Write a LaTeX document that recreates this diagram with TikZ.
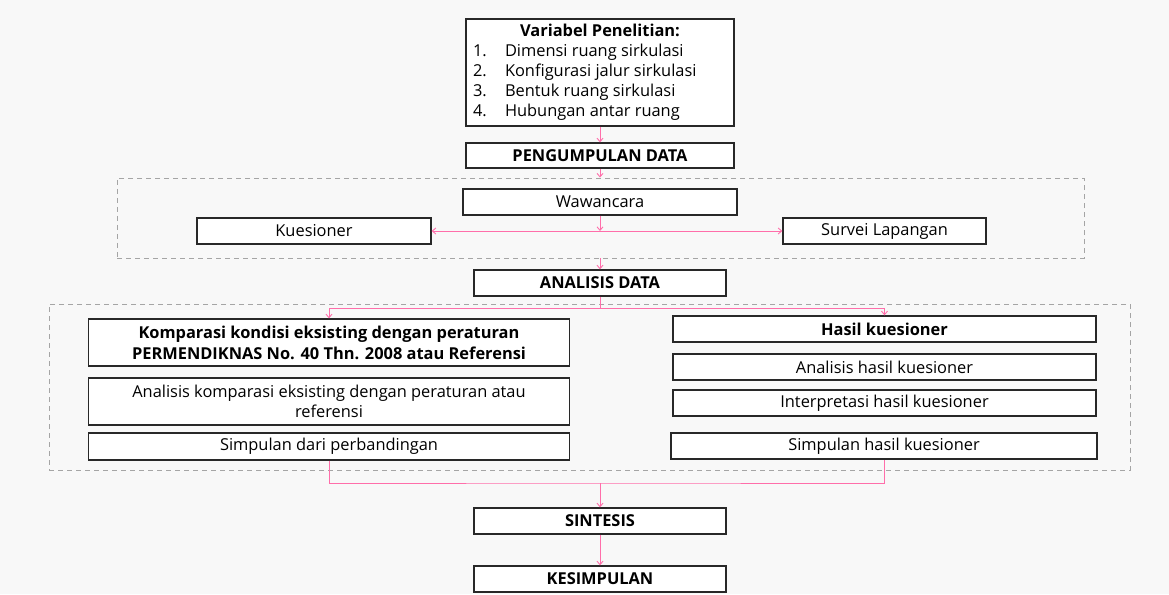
\documentclass[tikz,border=0pt]{standalone}
\usepackage{fontspec}
\setmainfont{Open Sans}
\usetikzlibrary{arrows.meta}
\definecolor{bgc}{RGB}{248,248,248}
\definecolor{pk}{RGB}{255,110,170}
\definecolor{dashc}{RGB}{165,165,165}
\definecolor{boxc}{RGB}{40,40,40}
\tikzset{
  box/.style={draw=boxc, fill=white, line width=1.3pt, inner sep=0pt, align=center,
    font=\fontsize{16.4}{20}\selectfont},
  bbox/.style={box, font=\fontsize{16.4}{21}\selectfont\bfseries},
  dbox/.style={draw=dashc, line width=0.9pt, dash pattern=on 5pt off 4pt, inner sep=0pt},
  conn/.style={draw=pk, line width=0.9pt},
  arr/.style={conn, -{Straight Barb[length=3.5pt,width=6pt]}},
}
\begin{document}
\begin{tikzpicture}[x=1pt,y=-1pt]
\useasboundingbox (0,0) rectangle (1169,594);
\fill[bgc] (0,0) rectangle (1169,594);

% dashed groups
\node[dbox, minimum width=967pt, minimum height=80pt] (d1) at (600.5,218) {};
\node[dbox, minimum width=1081pt, minimum height=166pt] (d2) at (589.5,387) {};

% boxes
\node[box, minimum width=268pt, minimum height=107pt] (var) at (600,72.5)
  {{\bfseries Variabel Penelitian:}\\
   \makebox[254pt][l]{\makebox[32pt][l]{1.}Dimensi ruang sirkulasi}\\
   \makebox[254pt][l]{\makebox[32pt][l]{2.}Konfigurasi jalur sirkulasi}\\
   \makebox[254pt][l]{\makebox[32pt][l]{3.}Bentuk ruang sirkulasi}\\
   \makebox[254pt][l]{\makebox[32pt][l]{4.}Hubungan antar ruang}};
\node[bbox, minimum width=268pt, minimum height=25pt] (pd) at (600,155.5) {PENGUMPULAN DATA};
\node[box, minimum width=274pt, minimum height=26pt] (waw) at (600,202) {Wawancara};
\node[box, minimum width=234pt, minimum height=26pt] (kue) at (314,231) {Kuesioner};
\node[box, minimum width=203pt, minimum height=26pt] (sur) at (884.5,231) {Survei Lapangan};
\node[bbox, minimum width=252pt, minimum height=26pt] (ana) at (600,283) {ANALISIS DATA};
\node[bbox, minimum width=481pt, minimum height=47pt] (kom) at (329,342.5)
  {Komparasi kondisi eksisting dengan peraturan\\PERMENDIKNAS No. 40 Thn. 2008 atau Referensi};
\node[box, minimum width=481pt, minimum height=47pt] (akom) at (329,401.5)
  {Analisis komparasi eksisting dengan peraturan atau\\referensi};
\node[box, minimum width=481pt, minimum height=27pt] (sdp) at (329,446.5) {Simpulan dari perbandingan};
\node[bbox, minimum width=423pt, minimum height=26pt] (hk) at (884.5,329) {Hasil kuesioner};
\node[box, minimum width=423pt, minimum height=26pt] (ahk) at (884.5,367) {Analisis hasil kuesioner};
\node[box, minimum width=423pt, minimum height=26pt] (ihk) at (884.5,403) {Interpretasi hasil kuesioner};
\node[box, minimum width=426pt, minimum height=26pt] (shk) at (884,446) {Simpulan hasil kuesioner};
\node[bbox, minimum width=252pt, minimum height=26pt] (sin) at (600,521) {SINTESIS};
\node[bbox, minimum width=252pt, minimum height=26pt] (kes) at (600,579) {KESIMPULAN};

% connectors
\draw[arr] (var.south) -- (pd.north);
\draw[arr] (pd.south) -- (pd.south |- d1.north);
\coordinate (j1) at (waw.south |- kue.east);
\draw[arr] (waw.south) -- (j1);
\draw[arr] (j1) -- (kue.east);
\draw[arr] (j1) -- (sur.west);
\draw[arr] (ana.north |- d1.south) -- (ana.north);
\coordinate (j2) at (600,308);
\draw[conn] (ana.south) -- (j2);
\draw[arr] (j2) -| (kom.north);
\draw[arr] (j2) -| (hk.north);
\coordinate (j3) at (600,483);
\draw[conn] (sdp.south) |- (j3) -| (shk.south);
\draw[arr] (j3) -- (sin.north);
\draw[arr] (sin.south) -- (kes.north);
\end{tikzpicture}
\end{document}
